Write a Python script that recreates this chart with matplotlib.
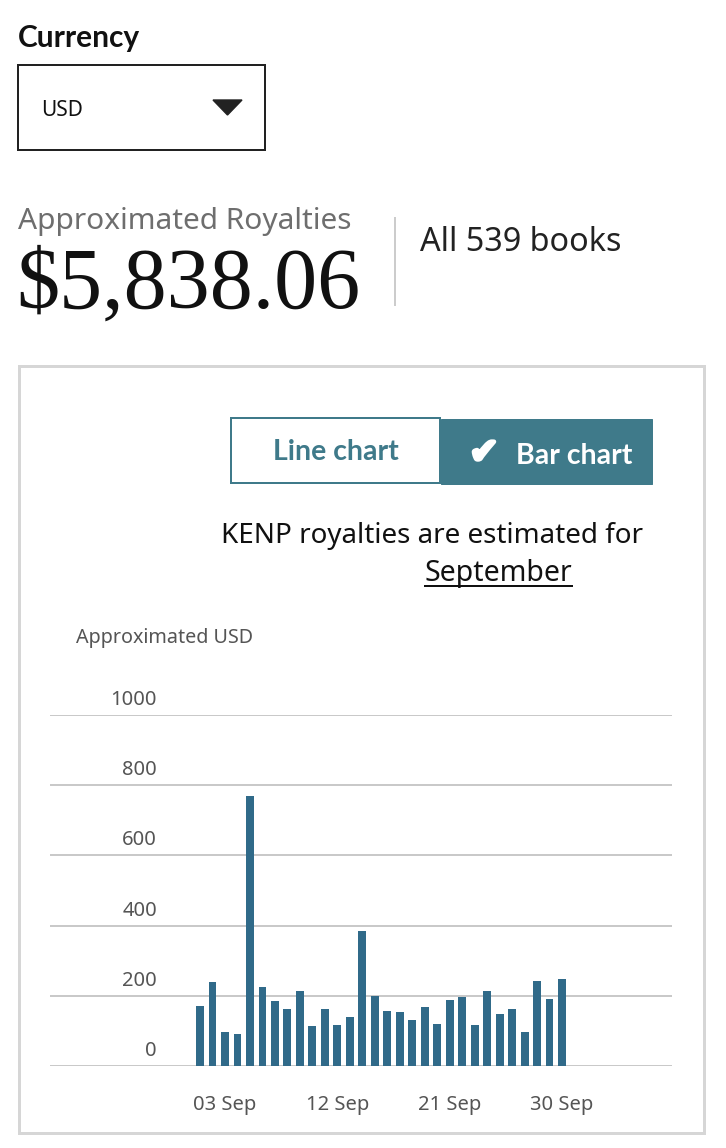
import matplotlib
matplotlib.use("Agg")
import matplotlib.pyplot as plt
from matplotlib.patches import Rectangle, Polygon
import matplotlib.transforms as mtransforms
import matplotlib.patheffects as pe

# daily royalties, 1-30 September (USD)
days = list(range(1, 31))
royalties = [172, 240, 98, 90, 770, 226, 186, 161, 213, 114,
             161, 116, 139, 386, 200, 157, 154, 130, 167, 121,
             188, 197, 116, 215, 149, 163, 98, 242, 190, 249]
tick_days = [3, 12, 21, 30]
tick_labels = ["03 Sep", "12 Sep", "21 Sep", "30 Sep"]
y_ticks = [0, 200, 400, 600, 800, 1000]

W, H = 726, 1148
teal = "#3f7a8a"
bar_color = "#306a89"
sans = ["Noto Sans", "DejaVu Sans"]
bold = ["Lato", "DejaVu Sans"]

fig = plt.figure(figsize=(W / 100, H / 100), dpi=100)

def fx(x):
    return x / W

def fy(y):
    return 1 - y / H

def px(p):
    # pixel size -> points
    return p * 72 / 100

# header
fig.text(fx(18), fy(47), "Currency", fontsize=21.5, fontweight="bold",
         family=bold, color="#111111", va="baseline")
fig.patches.append(Rectangle((fx(18), fy(150)), fx(265) - fx(18), fy(65) - fy(150),
                             transform=fig.transFigure, fill=False,
                             edgecolor="#222222", lw=px(2)))
fig.text(fx(41), fy(116), "USD", fontsize=15, family=sans, color="#111111", va="baseline")
fig.patches.append(Polygon([(fx(213), fy(100)), (fx(242), fy(100)), (fx(227.5), fy(115))],
                           closed=True, transform=fig.transFigure,
                           facecolor="#222222", edgecolor="#222222", lw=1))

fig.text(fx(18), fy(229), "Approximated Royalties", fontsize=21.5, family=sans,
         color="#6e6e6e", va="baseline")
fig.text(fx(16), fy(308), "$5,838.06", fontsize=62, family=["Liberation Serif", "DejaVu Serif"],
         color="#111111", va="baseline")
fig.lines.append(plt.Line2D([fx(395), fx(395)], [fy(218), fy(305)],
                            transform=fig.transFigure, color="#cccccc", lw=px(2)))
fig.text(fx(420), fy(251), "All 539 books", fontsize=23.3, family=sans,
         color="#222222", va="baseline")

# chart panel
fig.patches.append(Rectangle((fx(19), fy(1133)), fx(704) - fx(19), fy(366) - fy(1133),
                             transform=fig.transFigure, fill=False,
                             edgecolor="#d6d6d6", lw=px(3)))

# toggle buttons
fig.patches.append(Rectangle((fx(231), fy(483)), fx(440) - fx(231), fy(418) - fy(483),
                             transform=fig.transFigure, facecolor="white",
                             edgecolor=teal, lw=px(2)))
fig.text(fx(336), fy(452), "Line chart", fontsize=20.5, fontweight="bold", family=bold,
         color=teal, ha="center", va="center")
fig.patches.append(Rectangle((fx(441), fy(484)), fx(652) - fx(441), fy(419) - fy(484),
                             transform=fig.transFigure, facecolor=teal,
                             edgecolor=teal, lw=px(1)))
fig.text(fx(484), fy(453), "\u2714", fontsize=25, family=["DejaVu Sans"],
         color="white", ha="center", va="center",
         path_effects=[pe.withStroke(linewidth=2.5, foreground="white")])
fig.text(fx(516), fy(456), "Bar chart", fontsize=20.5, fontweight="bold", family=bold,
         color="white", ha="left", va="center")

fig.text(fx(432), fy(543), "KENP royalties are estimated for", fontsize=20, family=sans,
         color="#111111", ha="center", va="baseline")
fig.text(fx(498), fy(581), "September", fontsize=20.5, family=sans,
         color="#111111", ha="center", va="baseline")
fig.lines.append(plt.Line2D([fx(425), fx(572)], [fy(586), fy(586)],
                            transform=fig.transFigure, color="#111111", lw=px(2)))

fig.text(fx(76), fy(643), "Approximated USD", fontsize=14.2, family=sans,
         color="#555555", va="baseline")

# bar chart
ax = fig.add_axes([fx(50), fy(1066), fx(672) - fx(50), fy(715) - fy(1066)])
ax.bar(days, royalties, width=0.63, color=bar_color, zorder=3)
ax.set_ylim(0, 1000)
ax.set_xlim(-11.02, 38.81)
ax.set_yticks(y_ticks)
ax.yaxis.grid(True, color="#c9c9c9", lw=px(2), zorder=0)
ax.tick_params(axis="y", left=False, labelleft=False)
ax.set_xticks(tick_days)
ax.set_xticklabels(tick_labels, fontsize=14.5, family=sans, color="#555555")
ax.tick_params(axis="x", length=0, pad=21)
for s in ["top", "right", "left", "bottom"]:
    ax.spines[s].set_visible(False)

label_tr = mtransforms.offset_copy(ax.get_yaxis_transform(), fig=fig, x=0, y=5, units="dots")
for v in y_ticks:
    ax.text((157 - 50) / 622, v, str(v), transform=label_tr, fontsize=14.5, family=sans,
            color="#555555", ha="right", va="bottom", clip_on=False)

fig.savefig("out.png", dpi=100, facecolor="white")
